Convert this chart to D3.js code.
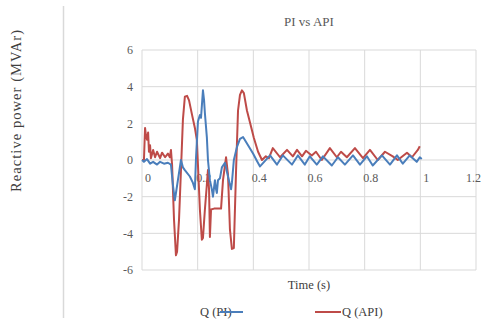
<!DOCTYPE html>
<meta charset="utf-8">
<style>
body { margin: 0; background: #fff; }
svg text { font-family: "Liberation Serif", "Times New Roman", "DejaVu Serif", serif; }
.grid line { stroke: #d9d9d9; stroke-width: 1px; }
.line { fill: none; stroke-width: 2px; stroke-linejoin: round; }
.tick-label { fill: #595959; font-size: 12px; }
</style>
<svg width="482" height="320"></svg>
<script src="https://cdn.jsdelivr.net/npm/d3@7"></script>
<script>

var chartTitle = "PI vs API",
    xTitle = "Time (s)",
    yTitle = "Reactive power (MVAr)";

var xTicks = [0, 0.2, 0.4, 0.6, 0.8, 1, 1.2],
    yTicks = [-6, -4, -2, 0, 2, 4, 6];

var seriesNames = ["Q (PI)", "Q (API)"],
    seriesColors = ["#4a7ebb", "#be4b48"];

// Q (PI)
var timePI = [0, 0.007, 0.018, 0.029, 0.04, 0.054, 0.065, 0.079, 0.093, 0.104,
  0.111, 0.118, 0.122, 0.129, 0.14, 0.147, 0.154, 0.172, 0.183, 0.19,
  0.194, 0.201, 0.208, 0.212, 0.219, 0.223, 0.226, 0.233, 0.237, 0.244,
  0.251, 0.255, 0.262, 0.266, 0.269, 0.273, 0.28, 0.287, 0.298, 0.309,
  0.32, 0.323, 0.33, 0.341, 0.352, 0.363, 0.381, 0.399, 0.413, 0.424,
  0.46, 0.485, 0.506, 0.539, 0.56, 0.585, 0.603, 0.628, 0.65, 0.682,
  0.704, 0.729, 0.758, 0.783, 0.808, 0.829, 0.862, 0.891, 0.916, 0.937,
  0.962, 0.987, 0.998, 1.005];
var qPI = [0, -0.1, 0.05, -0.2, -0.1, -0.25, -0.1, -0.2, -0.15, -0.25,
  -1.35, -2.2, -1.8, -1.1, 0, -0.4, -0.55, -0.9, -1.25, -1.6,
  0.1, 2.1, 2.45, 2.3, 3.8, 3.25, 2.55, 1.25, 0, -1.1,
  -1.6, -2.0, -1.1, -1.6, -1.8, -1.1, -1.0, -0.4, -0.15, -0.9,
  -1.6, -1.25, 0, 0.7, 1.15, 1.25, 0.8, 0.35, -0.05, -0.35,
  0.25, -0.25, 0.25, -0.25, 0.25, -0.25, 0.2, -0.25, 0.2, -0.3,
  0.15, -0.25, 0.25, -0.25, 0.2, -0.3, 0.25, -0.25, 0.25, -0.2,
  0.25, -0.1, 0.15, 0.05];

// Q (API)
var timeAPI = [0, 0.007, 0.011, 0.014, 0.018, 0.022, 0.025, 0.029, 0.032, 0.04,
  0.047, 0.054, 0.065, 0.072, 0.083, 0.093, 0.1, 0.104, 0.108, 0.115,
  0.122, 0.126, 0.133, 0.14, 0.147, 0.154, 0.162, 0.169, 0.18, 0.19,
  0.197, 0.201, 0.208, 0.215, 0.219, 0.226, 0.233, 0.237, 0.241, 0.244,
  0.248, 0.259, 0.284, 0.291, 0.302, 0.309, 0.316, 0.323, 0.33, 0.338,
  0.345, 0.352, 0.359, 0.366, 0.377, 0.388, 0.402, 0.417, 0.431, 0.445,
  0.456, 0.47, 0.496, 0.521, 0.542, 0.557, 0.575, 0.589, 0.61, 0.625,
  0.646, 0.675, 0.7, 0.715, 0.736, 0.765, 0.794, 0.819, 0.847, 0.873,
  0.901, 0.919, 0.952, 0.97, 0.991, 0.998];
var qAPI = [0, 0, 1.75, 1.35, 1.1, 1.5, 0.45, 0.8, 0.1, 0.55,
  0.15, 0.45, 0.1, 0.4, 0.15, 0.35, 0.15, 0.55, -0.25, -3.25,
  -5.2, -5.0, -3.25, -0.55, 2.2, 3.45, 3.5, 3.25, 2.45, 1.75,
  1.1, -0.25, -2.7, -4.35, -4.25, -2.7, -1.35, -0.55, -1.65, -4.2,
  -2.7, -2.65, -2.65, -1.1, 0.15, -0.8, -3.8, -4.85, -4.8, -0.55,
  2.7, 3.55, 3.8, 3.65, 2.7, 2.05, 1.2, 0.45, 0, 0.2,
  0.1, 0.65, 0.15, 0.55, 0.2, 0.55, 0.2, 0.5, 0.25, 0.45,
  0, 0.65, 0.15, 0.45, 0.15, 0.65, 0.1, 0.55, 0, 0.45,
  0.2, 0, 0.4, 0.15, 0.55, 0.75];

var svg = d3.select("svg"),
    margin = {top: 50, right: 6, bottom: 50, left: 142},
    width = svg.attr("width") - margin.left - margin.right,
    height = svg.attr("height") - margin.top - margin.bottom,
    g = svg.append("g").attr("transform", "translate(" + margin.left + "," + margin.top + ")");

var x = d3.scaleLinear().domain([0, 1.2]).range([0, width]),
    y = d3.scaleLinear().domain([-6, 6]).range([height, 0]);

// left divider line
svg.append("line")
    .attr("x1", 63.5).attr("x2", 63.5)
    .attr("y1", 6).attr("y2", 318)
    .attr("stroke", "#d9d9d9")
    .attr("stroke-width", 1.5);

// gridlines
var grid = g.append("g").attr("class", "grid");
grid.selectAll(".gx")
  .data(xTicks)
  .enter().append("line")
    .attr("x1", function(d) { return x(d); })
    .attr("x2", function(d) { return x(d); })
    .attr("y1", 0).attr("y2", height);
grid.selectAll(".gy")
  .data(yTicks)
  .enter().append("line")
    .attr("x1", 0).attr("x2", width)
    .attr("y1", function(d) { return y(d); })
    .attr("y2", function(d) { return y(d); });

// tick labels (the last one sits against the right edge)
g.selectAll(".xlab")
  .data(xTicks)
  .enter().append("text")
    .attr("class", "tick-label")
    .attr("x", function(d, i) { return i === xTicks.length - 1 ? width + 5 : x(d) + 6; })
    .attr("y", y(0) + 22)
    .attr("text-anchor", function(d, i) { return i === xTicks.length - 1 ? "end" : "middle"; })
    .text(function(d) { return d; });

g.selectAll(".ylab")
  .data(yTicks)
  .enter().append("text")
    .attr("class", "tick-label")
    .attr("x", -9)
    .attr("y", function(d) { return y(d); })
    .attr("dy", "0.35em")
    .attr("text-anchor", "end")
    .text(function(d) { return d; });

// series
var series = [
  {name: seriesNames[0], color: seriesColors[0], values: timePI.map(function(t, i) { return {t: t, q: qPI[i]}; })},
  {name: seriesNames[1], color: seriesColors[1], values: timeAPI.map(function(t, i) { return {t: t, q: qAPI[i]}; })}
];

var line = d3.line()
    .x(function(d) { return x(d.t); })
    .y(function(d) { return y(d.q); });

// API drawn first, PI on top
g.selectAll(".line")
  .data([series[1], series[0]])
  .enter().append("path")
    .attr("class", "line")
    .attr("d", function(d) { return line(d.values); })
    .style("stroke", function(d) { return d.color; });

// titles
svg.append("text")
    .attr("x", margin.left + width / 2)
    .attr("y", 26)
    .attr("text-anchor", "middle")
    .attr("fill", "#595959")
    .style("font-size", "13px")
    .text(chartTitle);

svg.append("text")
    .attr("x", margin.left + width / 2)
    .attr("y", 289)
    .attr("text-anchor", "middle")
    .attr("fill", "#404040")
    .style("font-size", "12.5px")
    .text(xTitle);

svg.append("text")
    .attr("transform", "translate(21,111) rotate(-90)")
    .attr("text-anchor", "middle")
    .attr("fill", "#404040")
    .attr("textLength", 162)
    .attr("lengthAdjust", "spacing")
    .style("font-size", "14.5px")
    .text(yTitle);

// legend
var legend = [
  {name: seriesNames[0], color: seriesColors[0], tx: 200, lx1: 220, lx2: 243},
  {name: seriesNames[1], color: seriesColors[1], tx: 342, lx1: 315, lx2: 341}
];

var leg = svg.selectAll(".legend")
  .data(legend)
  .enter().append("g")
    .attr("class", "legend");

leg.append("text")
    .attr("x", function(d) { return d.tx; })
    .attr("y", 316)
    .attr("fill", "#404040")
    .style("font-size", "12.5px")
    .text(function(d) { return d.name; });

leg.append("line")
    .attr("x1", function(d) { return d.lx1; })
    .attr("x2", function(d) { return d.lx2; })
    .attr("y1", 312).attr("y2", 312)
    .attr("stroke", function(d) { return d.color; })
    .attr("stroke-width", 2);

</script>
